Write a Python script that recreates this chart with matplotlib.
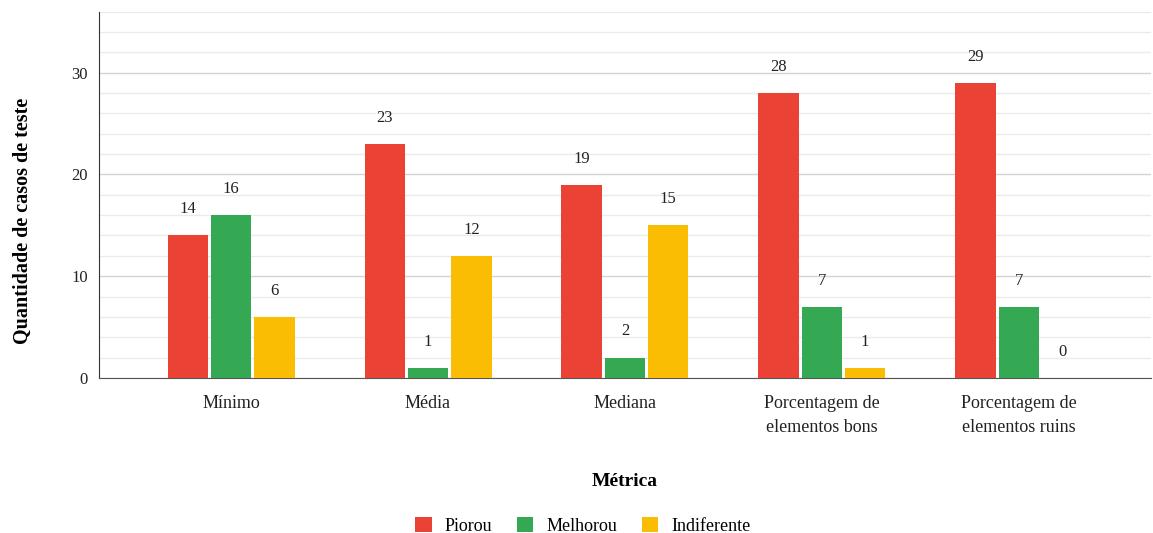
import numpy as np
import matplotlib.pyplot as plt
from matplotlib.ticker import MultipleLocator

# ── Data ─────────────────────────────────────
categories = ["Mínimo", "Média", "Mediana",
              "Porcentagem de\nelementos bons", "Porcentagem de\nelementos ruins"]
piorou     = [14, 23, 19, 28, 29]
melhorou   = [16, 1, 2, 7, 7]
indiferente = [6, 12, 15, 1, 0]

series = [("Piorou", piorou, "#EA4335"),
          ("Melhorou", melhorou, "#34A853"),
          ("Indiferente", indiferente, "#FBBC04")]

plt.rcParams["font.family"] = ["Liberation Serif", "DejaVu Serif"]

fig = plt.figure(figsize=(11.53, 5.33), dpi=100)
ax = fig.add_axes([0.086, 0.291, 0.912, 0.687])

x = np.arange(len(categories))
width = 0.205
step = 0.22
for i, (name, vals, color) in enumerate(series):
    pos = x + (i - 1) * step
    bars = ax.bar(pos, vals, width, color=color, label=name, zorder=3)
    for b, v in zip(bars, vals):
        ax.annotate(str(v), (b.get_x() + b.get_width() / 2, v),
                    xytext=(0, 13), textcoords="offset points",
                    ha="center", va="bottom", fontsize=12, color="#222222")

ax.set_xlim(-0.67, 4.67)
ax.set_ylim(0, 36)
ax.set_xticks(x)
ax.set_xticklabels(categories, fontsize=13, color="#222222", linespacing=1.55)
ax.yaxis.set_major_locator(MultipleLocator(10))
ax.yaxis.set_minor_locator(MultipleLocator(2))
ax.tick_params(axis="y", which="both", length=0, labelsize=12, colors="#222222", pad=8)
ax.tick_params(axis="x", length=0, pad=12)
ax.grid(axis="y", which="major", color="#d4d4d4", linewidth=1, zorder=0)
ax.grid(axis="y", which="minor", color="#ebebeb", linewidth=1, zorder=0)

for s in ["top", "right"]:
    ax.spines[s].set_visible(False)
ax.spines["left"].set_color("#333333")
ax.spines["bottom"].set_color("#555555")

ax.set_ylabel("Quantidade de casos de teste", fontsize=14.5, fontweight="bold")
ax.yaxis.set_label_coords(-0.063, 0.43)
ax.set_xlabel("Métrica", fontsize=14, fontweight="bold", labelpad=27)

ax.legend(loc="center", bbox_to_anchor=(0.46, -0.405), ncol=3, frameon=False,
          fontsize=13, handlelength=0.9, handleheight=0.9, handletextpad=0.7,
          columnspacing=1.4)

plt.savefig("out.png", dpi=100)
